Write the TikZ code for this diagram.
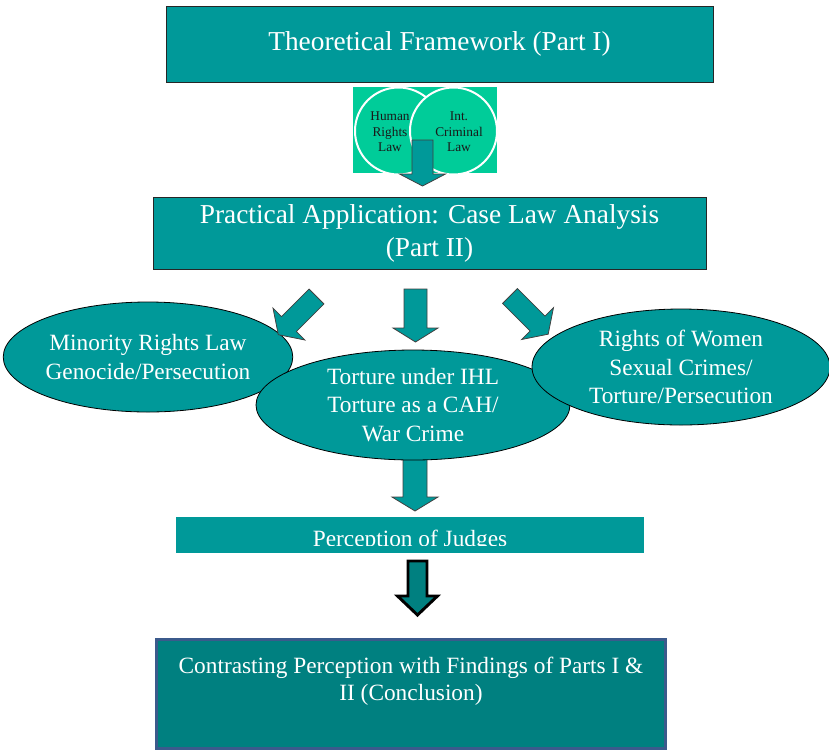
\documentclass[tikz,border=0pt]{standalone}
\usepackage{fontspec}
\setmainfont{Liberation Serif}
\usetikzlibrary{shapes.geometric}

\definecolor{tealfill}{RGB}{0,153,153}
\definecolor{darkteal}{RGB}{0,128,128}
\definecolor{mintfill}{RGB}{0,204,153}
\definecolor{slateedge}{RGB}{59,90,140}

% block arrow: name, start, style, angle, length, half shaft, half head, head length
\newcommand{\blockarrow}[8]{%
  \coordinate (#1) at #2;
  \draw [#3, shift={#2}, rotate=#4] (0,-#6) -- ({#5-#8},-#6) -- ({#5-#8},-#7) -- (#5,0) -- ({#5-#8},#7) -- ({#5-#8},#6) -- (0,#6) -- cycle ;
}

\begin{document}
\begin{tikzpicture}[x=0.75pt,y=0.75pt,yscale=-1,xscale=1,
  partbox/.style={rectangle, fill=tealfill, draw=black!85, line width=0.75pt, inner sep=0pt,
    text=white, align=center, font=\fontsize{20.5}{24.75}\selectfont},
  lawellipse/.style={ellipse, fill=tealfill, draw=black, line width=0.6pt, inner sep=0pt,
    text=white, align=center, font=\fontsize{17.5}{21.5}\selectfont},
  lawcircle/.style={circle, fill=mintfill, draw=white, line width=1.5pt, minimum size=65.25pt, inner sep=0pt},
  circletext/.style={text=black!90, align=center, inner sep=0pt, font=\fontsize{10}{11.6}\selectfont},
  blockarr/.style={fill=tealfill, draw=black!75, line width=0.6pt},
  heavyarr/.style={fill=darkteal, draw=black, line width=2.2pt},
  ]
\useasboundingbox [fill=white] (0,0) rectangle (829,751);

%Shape: Rectangle
\node [partbox, minimum width=410.25pt, minimum height=57pt] (theory) at (439.5,44) {Theoretical Framework (Part I)};

%Shape: Circles
\begin{scope}
\clip (353,87) rectangle (497,173);
\fill [mintfill] (353,87) rectangle (497,173);
\node [lawcircle] (hrlaw) at (398.5,131) {};
\node [lawcircle] (iclaw) at (453.5,131) {};
\end{scope}
% Text Node
\node [circletext] (hrtext) at (390,132) {Human\\Rights\\Law};
% Text Node
\node [circletext] (ictext) at (459,132) {Int.\\Criminal\\Law};

%Shape: Block Arrow
\blockarrow{down1}{(422.5,140)}{blockarr}{90}{46}{10.5}{23}{12}

%Shape: Rectangle
\node [partbox, minimum width=414.75pt, minimum height=54pt] (practice) at (429.5,233) {Practical Application: Case Law Analysis\\(Part II)};

%Shape: Block Arrow
\blockarrow{down2}{(415,445)}{blockarr}{90}{66}{12}{23}{14}

%Shape: Ellipse
\node [lawellipse, minimum width=213pt, minimum height=82.5pt] (minority) at (148,357) {Minority Rights Law\\Genocide/Persecution};
%Shape: Ellipse
\node [lawellipse, minimum width=235.5pt, minimum height=82.5pt] (torture) at (413,405) {Torture under IHL\\Torture as a CAH/\\War Crime};
%Shape: Ellipse
\node [lawellipse, minimum width=223.5pt, minimum height=87pt] (women) at (681,367) {Rights of Women\\Sexual Crimes/\\Torture/Persecution};

%Shape: Block Arrows
\blockarrow{leftarr}{(316.5,296.5)}{blockarr}{135}{54}{10.5}{22.5}{15}
\blockarrow{midarr}{(415.5,289)}{blockarr}{90}{53}{11.5}{22.5}{14}
\blockarrow{rightarr}{(510,296)}{blockarr}{45}{54}{10.5}{22.5}{15}

%Shape: Rectangle
\node [rectangle, fill=tealfill, inner sep=0pt, minimum width=351pt, minimum height=27pt] (judges) at (410,535) {};
\begin{scope}
\clip (176,517) rectangle (644,545.5);
% Text Node
\node [anchor=base, inner sep=0pt, text=white, font=\fontsize{17.5}{21}\selectfont] (judgestext) at (410,546) {Perception of Judges};
\end{scope}

%Shape: Block Arrow
\blockarrow{down3}{(417.5,561)}{heavyarr}{90}{54}{9.5}{20}{19}

%Shape: Rectangle
\node [rectangle, fill=darkteal, draw=slateedge, line width=1.9pt, inner sep=0pt, minimum width=382pt, minimum height=82pt] (conclusion) at (411,694) {};
% Text Node
\node [align=center, inner sep=0pt, text=white, font=\fontsize{17.5}{20.25}\selectfont] (conclusiontext) at (411,681) {Contrasting Perception with Findings of Parts I \&\\II (Conclusion)};

\end{tikzpicture}
\end{document}
